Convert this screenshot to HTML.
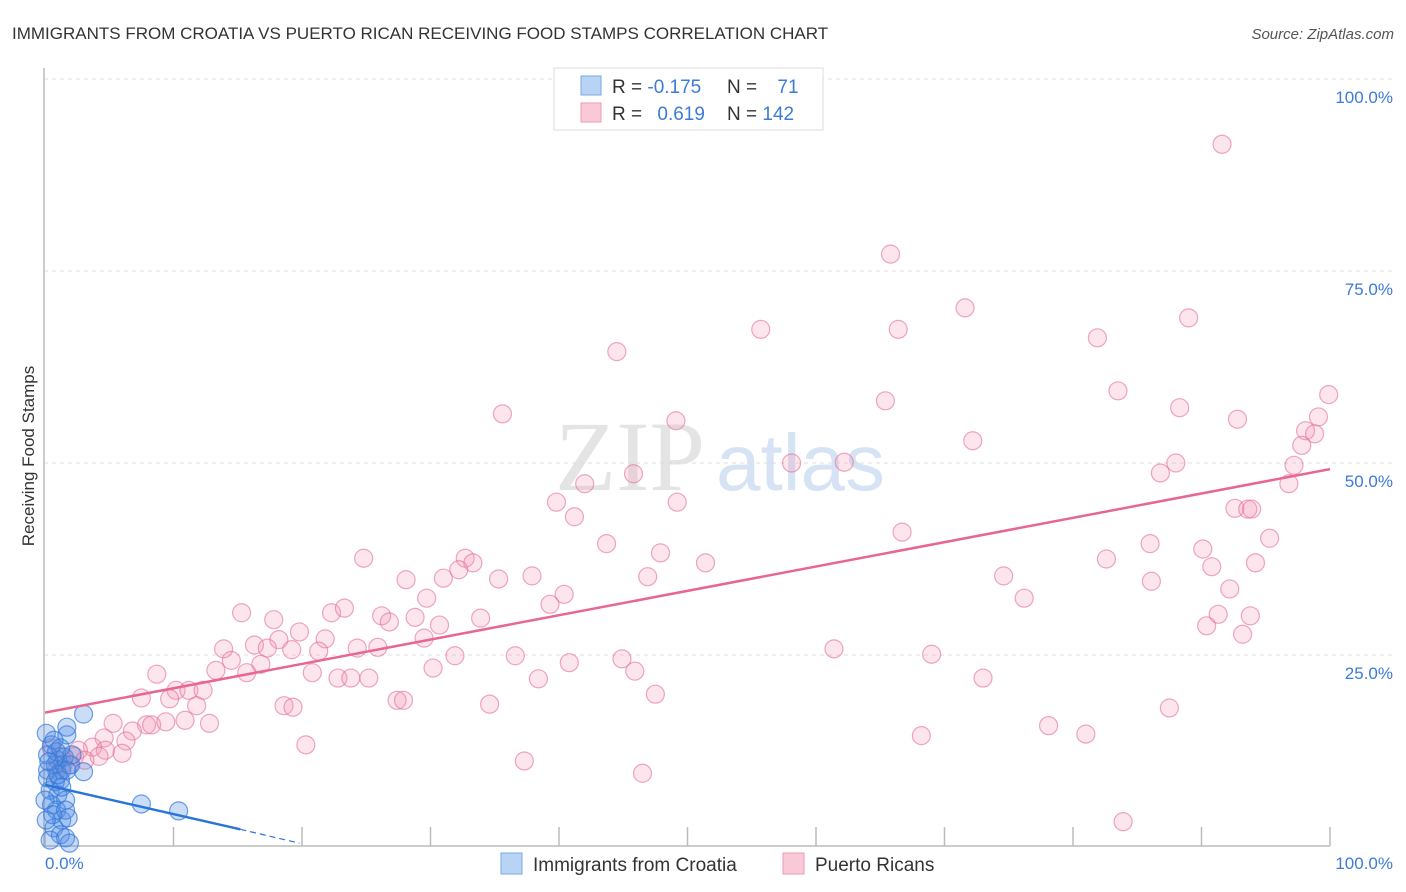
<!DOCTYPE html>
<html><head><meta charset="utf-8"><style>
body{margin:0;background:#fff;width:1406px;height:892px;overflow:hidden;font-family:"Liberation Sans",sans-serif}
svg{display:block}
</style></head><body>
<svg width="1406" height="892" xmlns="http://www.w3.org/2000/svg">
<text x="12" y="39" font-size="17" fill="#333">IMMIGRANTS FROM CROATIA VS PUERTO RICAN RECEIVING FOOD STAMPS CORRELATION CHART</text>
<text x="1394" y="39" font-size="15" fill="#555" font-style="italic" text-anchor="end">Source: ZipAtlas.com</text>
<g>
<text x="555" y="490" font-family="Liberation Serif,serif" font-size="100" fill="#e4e4e4">ZIP</text>
<text x="716" y="490" font-size="80" fill="#d6e3f5">atlas</text>
</g>
<g id="grid"></g>
<line x1="44" y1="68" x2="44" y2="846" stroke="#bbb" stroke-width="1.5"/>
<line x1="44" y1="846" x2="1330" y2="846" stroke="#bbb" stroke-width="1.5"/>
<g id="xticks"></g>
<text transform="translate(34,456) rotate(-90)" font-size="17" fill="#333" text-anchor="middle">Receiving Food Stamps</text>
<text x="45" y="869" font-size="17" fill="#3d7bd9">0.0%</text>
<text x="1393" y="869" font-size="17" fill="#3d7bd9" text-anchor="end">100.0%</text>
<g id="pts"></g>
<g id="lines"></g>
<g>
<rect x="554" y="68" width="269" height="62" fill="#fff" stroke="#ddd"/>
<rect x="581" y="76" width="20" height="19" fill="#b8d3f3" stroke="#7aa8e4"/>
<rect x="581" y="103" width="20" height="19" fill="#f9c9d7" stroke="#ee9ab3"/>
<text x="612" y="93" font-size="19" fill="#333">R = <tspan fill="#3d7bd9">-0.175</tspan></text>
<text x="727" y="93" font-size="19" fill="#333">N = <tspan fill="#3d7bd9" dx="15">71</tspan></text>
<text x="612" y="120" font-size="19" fill="#333">R = <tspan fill="#3d7bd9" dx="10">0.619</tspan></text>
<text x="727" y="120" font-size="19" fill="#333">N = <tspan fill="#3d7bd9">142</tspan></text>
</g>
<g>
<rect x="501" y="853" width="21" height="21" fill="#b8d3f3" stroke="#7aa8e4"/>
<text x="533" y="871" font-size="19" fill="#333">Immigrants from Croatia</text>
<rect x="783" y="853" width="21" height="21" fill="#f9c9d7" stroke="#ee9ab3"/>
<text x="815" y="871" font-size="19" fill="#333">Puerto Ricans</text>
</g>
</svg>
<script>
const yTicks=[25,50,75,100];
const yTickLabels=["25.0%","50.0%","75.0%","100.0%"];
const xTicks=[0,10,20,30,40,50,60,70,80,90,100];
const pinkX=[91.6,65.8,71.6,55.7,66.4,89.0,81.9,44.5,83.5,35.6,65.4,88.3,92.8,99.9,99.1,98.1,98.8,97.8,49.1,72.2,58.1,62.2,88.0,86.8,97.2,96.8,45.8,42.0,39.8,41.2,49.2,92.6,93.6,93.9,95.3,66.7,43.7,47.9,86.0,90.1,82.6,90.8,94.2,51.4,24.8,32.7,33.3,32.2,28.1,31.0,35.3,37.9,46.9,74.6,86.1,92.2,29.7,40.4,39.3,76.2,15.3,17.8,22.3,23.3,26.2,26.8,28.8,30.7,33.9,91.3,90.4,93.8,93.2,19.8,21.8,29.5,13.9,16.3,18.2,17.3,19.2,24.3,25.9,21.3,61.4,69.0,31.9,36.6,40.8,44.9,14.5,16.8,13.3,15.7,30.2,20.8,22.8,23.8,25.2,8.7,45.9,73.0,38.4,10.2,11.2,12.3,47.5,7.5,9.7,11.8,18.6,19.3,27.4,27.9,34.6,87.5,5.3,7.9,8.3,9.4,10.9,12.8,6.8,4.6,6.3,3.7,4.7,6.0,4.2,1.2,2.3,2.6,20.3,78.1,68.2,81.0,37.3,46.5,83.9,0.5,1.4,0.9,1.9,3.1];
const pinkY=[91.5,77.2,70.2,67.4,67.4,68.9,66.3,64.5,59.4,56.4,58.1,57.2,55.7,58.9,56.0,54.2,53.8,52.3,55.5,52.9,50.0,50.1,50.0,48.7,49.7,47.3,48.6,47.3,44.9,43.0,44.9,44.1,44.0,44.0,40.2,41.0,39.5,38.3,39.5,38.8,37.5,36.5,37.0,37.0,37.6,37.6,37.0,36.1,34.8,35.0,34.9,35.3,35.2,35.3,34.6,33.6,32.4,32.9,31.6,32.4,30.5,29.6,30.5,31.1,30.1,29.3,29.9,28.9,29.8,30.3,28.8,30.1,27.7,28.0,27.1,27.2,25.8,26.3,27.0,25.9,25.7,25.9,26.0,25.5,25.8,25.1,24.9,24.9,24.0,24.5,24.3,23.8,23.0,22.7,23.3,22.7,22.0,22.0,22.0,22.5,22.9,22.0,21.9,20.4,20.4,20.4,19.9,19.4,19.3,18.4,18.4,18.2,19.1,19.1,18.6,18.1,16.1,15.9,15.9,16.3,16.5,16.1,15.1,14.2,13.8,13.0,12.6,12.2,11.8,11.8,11.8,12.6,13.3,15.8,14.5,14.7,11.2,9.6,3.3,12.9,10.8,10.0,10.7,11.3];
const blueX=[3.0,1.7,1.7,0.1,0.5,1.0,1.3,0.8,0.2,1.2,0.4,1.0,1.6,0.5,0.9,1.3,1.8,0.7,1.2,1.6,0.4,1.9,0.2,0.9,1.5,2.0,3.0,0.2,0.8,1.3,0.0,0.6,1.6,7.5,10.4,0.1,1.0,1.7,2.1,0.3,0.7,1.2];
const blueY=[17.3,14.6,15.6,14.8,13.3,11.3,10.0,10.7,10.0,8.7,7.4,6.8,6.1,5.5,4.8,3.5,3.8,2.5,1.6,1.2,0.9,0.5,12.0,12.4,11.7,10.7,9.8,9.0,8.5,7.8,6.1,4.2,4.8,5.6,4.7,3.5,9.4,10.0,12.0,11.1,13.9,12.9];
const pinkTrend=[[0,17.5],[100,49.2]];
const blueTrend=[[0,8.1],[15.2,2.3],[19.8,0.5]];
const NS="http://www.w3.org/2000/svg";
const X0=45,X1=1330,Y0=847,Y1=79;
const sx=v=>X0+(X1-X0)*v/100, sy=v=>Y0-(Y0-Y1)*v/100;
function mk(t,a,p){const e=document.createElementNS(NS,t);for(const k in a)e.setAttribute(k,a[k]);p.appendChild(e);return e;}
const grid=document.getElementById('grid');
yTicks.forEach((v,i)=>{
 const l=mk('line',{x1:44,x2:1392,y1:sy(v),y2:sy(v),stroke:'#ddd','stroke-dasharray':'4,4'},grid);
 
 
 const t=mk('text',{x:1393,y:sy(v)+24,'font-size':17,fill:'#3d7bd9','text-anchor':'end'},grid);
 t.textContent=yTickLabels[i];
 
 
});
const xt=document.getElementById('xticks');
xTicks.forEach(v=>{
 const l=mk('line',{x1:sx(v),x2:sx(v),y1:827,y2:846,stroke:'#bbb','stroke-width':1.5},xt);
 
 
});
const pts=document.getElementById('pts');
pinkX.forEach((x,i)=>{
 const c=mk('circle',{cx:sx(x),cy:sy(pinkY[i]),r:9,fill:'rgba(244,150,182,0.25)',stroke:'rgba(226,110,150,0.6)','stroke-width':1.2},pts);
 
 
});
blueX.forEach((x,i)=>{
 const c=mk('circle',{cx:sx(x),cy:sy(blueY[i]),r:9,fill:'rgba(80,140,225,0.3)',stroke:'rgba(50,120,220,0.7)','stroke-width':1.2},pts);
 
 
});
const ln=document.getElementById('lines');
const pl=mk('line',{x1:sx(pinkTrend[0][0]),y1:sy(pinkTrend[0][1]),x2:sx(pinkTrend[1][0]),y2:sy(pinkTrend[1][1]),stroke:'#e8678f','stroke-width':2.5},ln);


const bl=mk('line',{x1:sx(blueTrend[0][0]),y1:sy(blueTrend[0][1]),x2:sx(blueTrend[1][0]),y2:sy(blueTrend[1][1]),stroke:'#2a76d8','stroke-width':2.5},ln);


const bd=mk('line',{x1:sx(blueTrend[1][0]),y1:sy(blueTrend[1][1]),x2:sx(blueTrend[2][0]),y2:sy(blueTrend[2][1]),stroke:'#2a76d8','stroke-width':1.2,'stroke-dasharray':'6,4'},ln);


</script>
</body></html>
